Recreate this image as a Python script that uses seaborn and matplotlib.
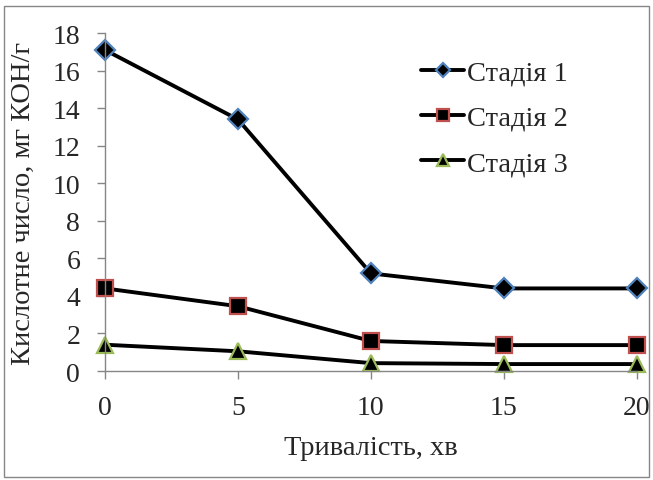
import matplotlib
matplotlib.use("Agg")
import matplotlib.pyplot as plt
import seaborn as sns
import pandas as pd
from matplotlib.patches import Rectangle

# data
minutes = [0, 5, 10, 15, 20]
stage1 = [17.1, 13.4, 5.2, 4.4, 4.4]
stage2 = [4.4, 3.45, 1.6, 1.38, 1.38]
stage3 = [1.4, 1.05, 0.42, 0.37, 0.37]
labels = ["Стадія 1", "Стадія 2", "Стадія 3"]

sns.set_style("white")
plt.rcParams['font.family'] = ['Liberation Serif', 'DejaVu Serif']

fig = plt.figure(figsize=(6.53, 4.81), dpi=100)
ax = fig.add_axes([0.161, 0.2266, 0.814, 0.7024])

df = pd.DataFrame({
    'x': minutes * 3,
    'y': stage1 + stage2 + stage3,
    'stage': [labels[0]] * 5 + [labels[1]] * 5 + [labels[2]] * 5,
})

markers = ['D', 's', '^']
edges = ['#4f81bd', '#c0504d', '#9bbb59']
sizes = [10, 11, 11]
for lab, m, ec, ms in zip(labels, markers, edges, sizes):
    sub = df[df['stage'] == lab]
    sns.lineplot(data=sub, x='x', y='y', ax=ax, color='black', linewidth=2.8,
                 marker=m, markersize=ms, markerfacecolor='black',
                 markeredgecolor=ec, markeredgewidth=1.6, label=lab)

ax.set_xlim(0, 20)
ax.set_ylim(0, 18)
ax.set_xticks(minutes)
ax.set_yticks(range(0, 19, 2))
ax.set_xlabel("Тривалість, хв", fontsize=20.5, labelpad=11)
ax.set_ylabel("Кислотне число, мг КОН/г", fontsize=20.5, labelpad=12)
ax.tick_params(axis='both', labelsize=20, length=6, width=1, color='#868686',
               direction='out', left=True, bottom=True)
ax.tick_params(axis='x', pad=11)
ax.tick_params(axis='y', pad=12)
for s in ['top', 'right']:
    ax.spines[s].set_visible(False)
for s in ['left', 'bottom']:
    ax.spines[s].set_color('#868686')
    ax.spines[s].set_linewidth(1)
for line in ax.get_lines():
    line.set_clip_on(False)

leg = ax.legend(loc='upper left', bbox_to_anchor=(0.645, 0.874), bbox_transform=fig.transFigure,
                frameon=False, fontsize=20.5, handlelength=1.5, handletextpad=0.12,
                labelspacing=0.68, borderpad=0, borderaxespad=0, markerscale=0.75)

fig.patches.append(Rectangle((0.006, 0.006), 0.988, 0.979, transform=fig.transFigure,
                             fill=False, edgecolor='#868686', linewidth=1))

fig.savefig("out.png", dpi=100)
